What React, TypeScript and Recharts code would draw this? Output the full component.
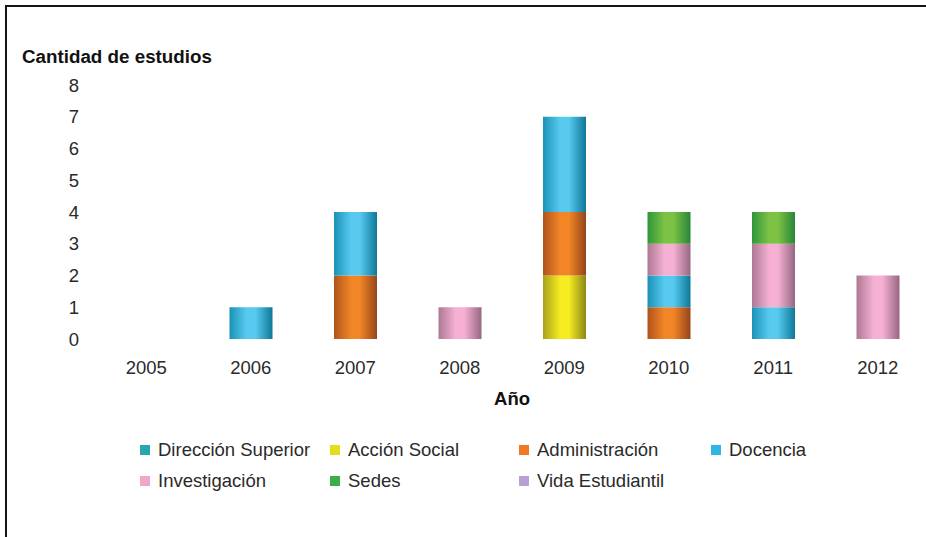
import React from 'react';
import { BarChart, Bar, XAxis, YAxis } from 'recharts';

const years = ['2005', '2006', '2007', '2008', '2009', '2010', '2011', '2012'];
const direccionSuperior = [0, 0, 0, 0, 0, 0, 0, 0];
const accionSocial = [0, 0, 0, 0, 2, 0, 0, 0];
const administracion = [0, 0, 2, 0, 2, 1, 0, 0];
const docencia = [0, 1, 2, 0, 3, 1, 1, 0];
const investigacion = [0, 0, 0, 1, 0, 1, 2, 2];
const sedes = [0, 0, 0, 0, 0, 1, 1, 0];
const vidaEstudiantil = [0, 0, 0, 0, 0, 0, 0, 0];
const yTicks = [0, 1, 2, 3, 4, 5, 6, 7, 8];

const seriesNames = ['Dirección Superior', 'Acción Social', 'Administración', 'Docencia', 'Investigación', 'Sedes', 'Vida Estudiantil'];
const seriesKeys = ['dir', 'acc', 'adm', 'doc', 'inv', 'sed', 'vid'];
const seriesValues = [direccionSuperior, accionSocial, administracion, docencia, investigacion, sedes, vidaEstudiantil];
const legendColors = ['#28a4b4', '#e4dc1c', '#ee7a22', '#2eb6e4', '#f0a6c9', '#3cae48', '#b9a0d4'];
// gradient stops: left edge, highlight, right edge
const gradColors = [
  ['#1e8a98', '#38b8c8', '#177684'],
  ['#a8a21a', '#f6ec22', '#8c8815'],
  ['#b0541c', '#f28626', '#95451a'],
  ['#1a92b6', '#58caf0', '#0d7898'],
  ['#ad7893', '#f6b0d3', '#966780'],
  ['#2d963a', '#7dc244', '#27863a'],
  ['#8d76aa', '#c4aee0', '#7a6496'],
];

const data = years.map((y, i) => {
  const row: Record<string, string | number> = { year: y };
  seriesKeys.forEach((k, j) => {
    row[k] = seriesValues[j][i];
  });
  return row;
});

const FONT = '"Liberation Sans", Arial, Helvetica, sans-serif';
const legendCols = [140, 330, 519, 711];
const legendRows = [445, 476];

export default function App() {
  return (
    <div style={{ position: 'absolute', left: 0, top: 0, width: 926, height: 537, background: '#fff', overflow: 'hidden' }}>
      <BarChart
        width={926}
        height={537}
        data={data}
        margin={{ top: 85, right: -4, bottom: 168, left: 34 }}
        barSize={43}
        style={{ fontFamily: FONT }}
      >
        <defs>
          {seriesKeys.map((k, j) => (
            <linearGradient key={k} id={`g-${k}`} x1="0" y1="0" x2="1" y2="0">
              <stop offset="0%" stopColor={gradColors[j][0]} />
              <stop offset="40%" stopColor={gradColors[j][1]} />
              <stop offset="60%" stopColor={gradColors[j][1]} />
              <stop offset="100%" stopColor={gradColors[j][2]} />
            </linearGradient>
          ))}
        </defs>
        <line x1={5} y1={6} x2={926} y2={6} stroke="#151515" strokeWidth={2} />
        <line x1={6} y1={5} x2={6} y2={537} stroke="#151515" strokeWidth={2} />
        <XAxis
          dataKey="year"
          axisLine={false}
          tickLine={false}
          tickMargin={16}
          height={30}
          tick={{ fontSize: 18.5, fill: '#2a2a2a', fontFamily: FONT }}
        />
        <YAxis
          width={60}
          domain={[0, 8]}
          ticks={yTicks}
          interval={0}
          axisLine={false}
          tickLine={false}
          tickMargin={9}
          tick={{ fontSize: 18.5, fill: '#2a2a2a', fontFamily: FONT }}
        />
        {seriesKeys.map((k, j) => (
          <Bar
            key={k}
            dataKey={k}
            name={seriesNames[j]}
            stackId="a"
            fill={`url(#g-${k})`}
            isAnimationActive={false}
          />
        ))}
        <text x={22} y={63} fontSize={18.8} fontWeight="bold" fill="#111" fontFamily={FONT}>
          Cantidad de estudios
        </text>
        <text x={512} y={405} fontSize={18.5} fontWeight="bold" fill="#111" textAnchor="middle" fontFamily={FONT}>
          Año
        </text>
        <g>
          {seriesNames.map((n, j) => {
            const col = j % 4;
            const row = Math.floor(j / 4);
            const x = legendCols[col];
            const y = legendRows[row];
            return (
              <g key={n}>
                <rect x={x} y={y} width={10} height={10} fill={legendColors[j]} />
                <text x={x + 18} y={y + 11} fontSize={18.5} fill="#2a2a2a" fontFamily={FONT}>
                  {n}
                </text>
              </g>
            );
          })}
        </g>
      </BarChart>
    </div>
  );
}
